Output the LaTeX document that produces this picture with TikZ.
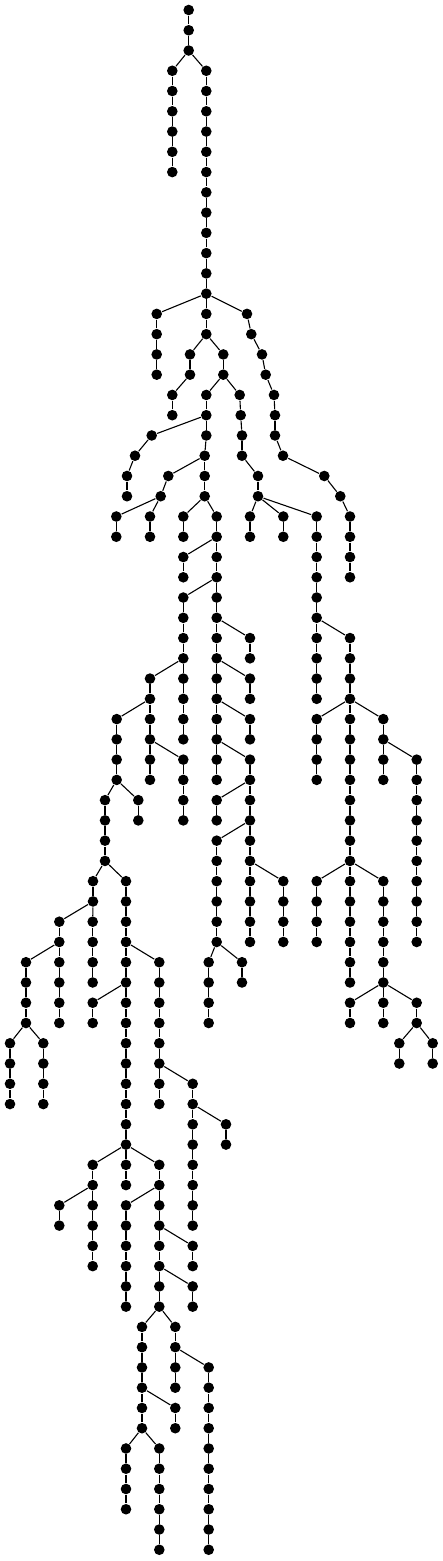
\documentclass[tikz,border=0pt]{standalone}
\newcommand\chain[5]{%
  \foreach \r in {#3,...,#4}{\node[dot] (#1\r) at (#2,{-(10+20.26*\r)}) {};}%
  \draw (#5) -- (#1#3);%
  \foreach \r [evaluate=\r as \p using int(\r-1)] in {#3,...,#4}{\ifnum\r>#3\relax\draw (#1\p) -- (#1\r);\fi}%
}
\newcommand\one[4]{\node[dot] (#1) at (#2,{-(10+20.26*#3)}) {};\draw (#4) -- (#1);}
\begin{document}
\begin{tikzpicture}[x=1pt,y=1pt,line width=1.1pt,
  dot/.style={circle,fill=black,draw=none,inner sep=0pt,minimum size=10.6pt}]
\useasboundingbox (0,0) rectangle (443,-1561);
\node[dot] (root) at (188.7,-10) {};
\chain{tA}{188.7}{1}{2}{root}
\chain{tB}{172.3}{3}{8}{tA2}
\chain{tC}{206.3}{3}{16}{tA2}
\chain{tD}{156.7}{15}{18}{tC14}
\one{fr15}{247}{15}{tC14}
\one{fr16}{251.3}{16}{fr15}
\one{fr17}{262}{17}{fr16}
\one{fr18}{265.7}{18}{fr17}
\one{fr19}{274}{19}{fr18}
\one{fr20}{275}{20}{fr19}
\one{fr21}{275}{21}{fr20}
\one{fr22}{283}{22}{fr21}
\one{fr23}{324.3}{23}{fr22}
\one{fr24}{340.3}{24}{fr23}
\chain{fs}{350}{25}{28}{fr24}
\chain{tG}{190}{17}{18}{tC16}
\chain{tH}{172.3}{19}{20}{tG18}
\chain{tI}{223.3}{17}{18}{tC16}
\one{gr19}{239.7}{19}{tI18}
\one{gr20}{240.7}{20}{gr19}
\one{gr21}{242}{21}{gr20}
\one{gr22}{242}{22}{gr21}
\one{gr23}{258}{23}{gr22}
\one{gr24}{258}{24}{gr23}
\chain{tJ}{206.3}{19}{21}{tI18}
\chain{tK}{204.7}{22}{24}{tJ21}
\one{lf21}{151.7}{21}{tJ20}
\one{lf22}{135}{22}{lf21}
\chain{tL}{127}{23}{24}{lf22}
\one{pp23}{168.3}{23}{tK22}
\one{pp24}{160.7}{24}{pp23}
\chain{tM}{116.3}{25}{26}{pp24}
\chain{tN}{150}{25}{26}{pp24}
\chain{tO}{183.3}{25}{26}{tK24}
\chain{tP}{216.7}{25}{38}{tK24}
\chain{tQ}{183.3}{27}{28}{tP26}
\chain{tR}{183.3}{29}{36}{tP28}
\chain{tS}{250}{31}{32}{tP30}
\chain{tT}{250}{33}{34}{tP32}
\chain{tU}{250}{35}{36}{tP34}
\chain{tV}{250}{37}{46}{tP36}
\chain{tW}{216.7}{39}{40}{tV38}
\chain{tX}{216.7}{41}{46}{tV40}
\chain{tY}{208.7}{47}{50}{tX46}
\chain{tZ}{242}{47}{48}{tX46}
\chain{uA}{283.3}{43}{46}{tV42}
\chain{uB}{150}{33}{38}{tR32}
\chain{uC}{116.7}{35}{38}{uB34}
\chain{uD}{183.3}{37}{40}{uB36}
\chain{uE}{105}{39}{42}{uC38}
\chain{uF}{138.3}{39}{40}{uC38}
\chain{uG}{93}{43}{44}{uE42}
\chain{uH}{59.3}{45}{50}{uG44}
\chain{uI}{92.7}{45}{48}{uG44}
\chain{uJ}{26}{47}{50}{uH46}
\chain{uK}{10}{51}{54}{uJ50}
\chain{uL}{43.3}{51}{54}{uJ50}
\chain{uM}{126}{43}{58}{uE42}
\chain{uN}{159.3}{47}{54}{uM46}
\chain{uO}{92.7}{49}{50}{uM48}
\chain{uP}{192.7}{53}{60}{uN52}
\chain{uQ}{226}{55}{56}{uP54}
\chain{uR}{92.7}{57}{62}{uM56}
\chain{uS}{59.3}{59}{60}{uR58}
\chain{uT}{159.3}{57}{64}{uM56}
\chain{uU}{126}{59}{64}{uT58}
\chain{uV}{192.7}{61}{62}{uT60}
\chain{uW}{192.7}{63}{64}{uT62}
\chain{uX}{142}{65}{70}{uT64}
\chain{uY}{175.3}{65}{68}{uT64}
\chain{uZ}{208.7}{67}{76}{uY66}
\chain{vA}{175.3}{69}{70}{uX68}
\chain{vB}{126}{71}{74}{uX70}
\chain{vC}{159.3}{71}{76}{uX70}
\chain{vD}{250}{25}{26}{gr24}
\chain{vE}{283.3}{25}{26}{gr24}
\chain{vF}{316.7}{25}{34}{gr24}
\chain{vG}{350}{31}{48}{vF30}
\chain{vH}{316.7}{35}{38}{vG34}
\chain{vI}{383.3}{35}{38}{vG34}
\chain{vJ}{416.7}{37}{46}{vI36}
\chain{vK}{316.7}{43}{46}{vG42}
\chain{vL}{383.3}{43}{50}{vG42}
\chain{vM}{350}{49}{50}{vL48}
\chain{vN}{416.7}{49}{50}{vL48}
\chain{vO}{399.3}{51}{52}{vN50}
\chain{vP}{432.7}{51}{52}{vN50}
\end{tikzpicture}
\end{document}
